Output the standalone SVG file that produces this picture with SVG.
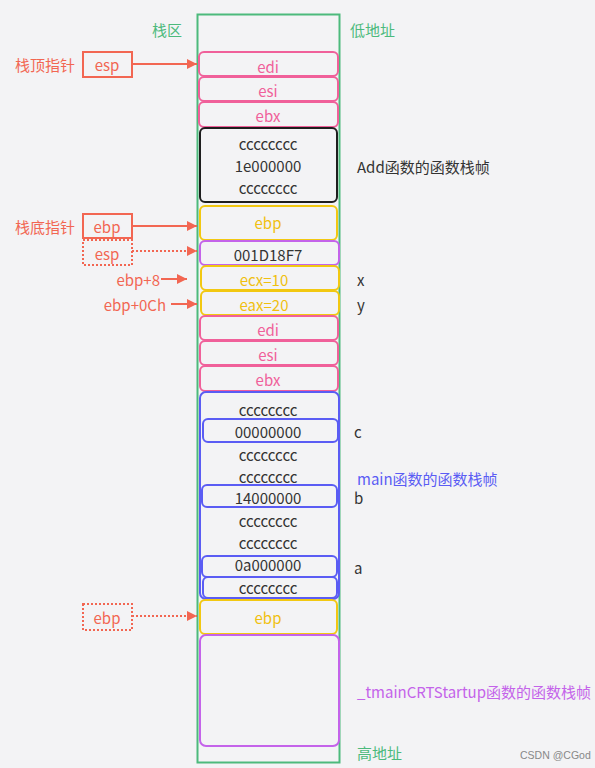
<svg xmlns="http://www.w3.org/2000/svg" width="595" height="768" viewBox="0 0 595 768">
<style>
text{font-family:"Noto Sans CJK SC","Noto Sans",sans-serif;font-size:15px;dominant-baseline:central}
.c{text-anchor:middle}
.r{text-anchor:end}
.box{fill:none;stroke-width:2}
.pink{stroke:#f0609a}
.tp{fill:#f0609a}
.yel{stroke:#f2c811}
.ty{fill:#f0c010}
.pur{stroke:#c463ea}
.tu{fill:#c463ea}
.blu{stroke:#5a5cf4}
.tb{fill:#5a5cf4}
.blk{stroke:#1e1e1e}
.tk{fill:#333}
.grn{fill:#4cba7c}
.red{fill:#f26652}
.rbox{fill:none;stroke:#f26652;stroke-width:2}
.dot{stroke-dasharray:2 2}
.ln{stroke:#f26652;stroke-width:2;fill:none}
</style>
<defs>
<marker id="ah" viewBox="0 0 10 10" refX="10" refY="5" markerWidth="10" markerHeight="10" markerUnits="userSpaceOnUse" orient="auto">
<path d="M0,0 L10,5 L0,10 Z" fill="#f26652"/>
</marker>
</defs>
<rect x="0" y="0" width="595" height="768" fill="#f3f3f5"/>
<g id="stack-area">
<rect x="197.5" y="14.5" width="142" height="748" fill="none" stroke="#4cba7c" stroke-width="2"/>
<text x="152" y="29" class="grn">栈区</text>
<text x="350" y="29" class="grn">低地址</text>
<text x="357" y="752" class="grn">高地址</text>
</g>
<g id="n-edi1"><rect x="199" y="52" width="139" height="24" rx="5" class="box pink"/><text x="268" y="66" class="c tp">edi</text></g>
<g id="n-esi1"><rect x="199" y="77" width="139" height="24" rx="5" class="box pink"/><text x="268" y="90" class="c tp">esi</text></g>
<g id="n-ebx1"><rect x="199" y="102" width="139" height="25" rx="5" class="box pink"/><text x="268" y="115" class="c tp">ebx</text></g>
<g id="n-add-locals"><rect x="200" y="128" width="137" height="74" rx="5" class="box blk"/>
<text x="268" y="143" class="c tk">cccccccc</text><text x="268" y="165" class="c tk">1e000000</text><text x="268" y="187" class="c tk">cccccccc</text></g>
<g id="n-ebp1"><rect x="200" y="206" width="137" height="34" rx="5" class="box yel"/><text x="268" y="222" class="c ty">ebp</text></g>
<g id="n-ret"><rect x="200" y="241" width="139" height="24" rx="5" class="box pur"/><text x="268" y="254" class="c tk">001D18F7</text></g>
<g id="n-ecx"><rect x="201" y="266" width="138" height="24" rx="5" class="box yel"/><text x="264" y="279" class="c ty">ecx=10</text></g>
<g id="n-eax"><rect x="201" y="291" width="138" height="24" rx="5" class="box yel"/><text x="264" y="304" class="c ty">eax=20</text></g>
<g id="n-edi2"><rect x="200" y="316" width="138" height="24" rx="5" class="box pink"/><text x="268" y="329" class="c tp">edi</text></g>
<g id="n-esi2"><rect x="200" y="341" width="138" height="24" rx="5" class="box pink"/><text x="268" y="354" class="c tp">esi</text></g>
<g id="n-ebx2"><rect x="200" y="366" width="138" height="25" rx="5" class="box pink"/><text x="268" y="379" class="c tp">ebx</text></g>
<g id="n-main-locals"><rect x="200" y="392" width="139" height="207" rx="6" class="box blu"/>
<text x="268" y="409" class="c tk">cccccccc</text>
<rect x="203" y="419" width="135" height="23" rx="5" class="box blu"/><text x="268" y="431" class="c tk">00000000</text>
<text x="268" y="454" class="c tk">cccccccc</text>
<text x="268" y="476" class="c tk">cccccccc</text>
<rect x="202" y="485" width="135" height="22" rx="5" class="box blu"/><text x="268" y="497" class="c tk">14000000</text>
<text x="268" y="520" class="c tk">cccccccc</text>
<text x="268" y="542" class="c tk">cccccccc</text>
<rect x="202" y="556" width="135" height="21" rx="5" class="box blu"/><text x="268" y="564" class="c tk">0a000000</text>
<rect x="203" y="577" width="134" height="21" rx="5" class="box blu"/><text x="268" y="587" class="c tk">cccccccc</text></g>
<g id="n-ebp2"><rect x="200" y="600" width="137" height="34" rx="5" class="box yel"/><text x="268" y="617" class="c ty">ebp</text></g>
<g id="n-crt"><rect x="200" y="635" width="139" height="111" rx="6" class="box pur"/></g>
<g id="labels-right">
<text x="357" y="166" class="tk">Add函数的函数栈帧</text>
<text x="357" y="279" class="tk">x</text>
<text x="357" y="304" class="tk">y</text>
<text x="354" y="431" class="tk">c</text>
<text x="357" y="478" class="tb">main函数的函数栈帧</text>
<text x="354" y="497" class="tk">b</text>
<text x="354" y="567" class="tk">a</text>
<text x="357" y="691" class="tu">_tmainCRTStartup函数的函数栈帧</text>
<text x="520" y="755" style="font-size:10.5px;font-family:'Liberation Sans',sans-serif" fill="#888">CSDN @CGod</text>
</g>
<g id="n-esp-top"><text x="15" y="64" class="red">栈顶指针</text><rect x="83" y="52" width="49" height="25" class="rbox"/><text x="107" y="64" class="c red">esp</text></g>
<g id="n-ebp-base"><text x="15" y="226" class="red">栈底指针</text><rect x="83" y="214" width="49" height="24" class="rbox"/><text x="107" y="226" class="c red">ebp</text></g>
<g id="n-esp-old"><rect x="83" y="240" width="49" height="25" class="rbox dot"/><text x="107" y="253" class="c red">esp</text></g>
<g id="n-ebp8"><text x="160" y="279" class="r red">ebp+8</text></g>
<g id="n-ebp0c"><text x="166" y="304" class="r red">ebp+0Ch</text></g>
<g id="n-ebp-old"><rect x="83" y="604" width="49" height="26" class="rbox dot"/><text x="107" y="617" class="c red">ebp</text></g>
<g id="connectors">
<line x1="132" y1="64" x2="197" y2="64" class="ln" marker-end="url(#ah)"/>
<line x1="132" y1="226" x2="197" y2="226" class="ln" marker-end="url(#ah)"/>
<line x1="132" y1="251" x2="197" y2="251" class="ln dot" marker-end="url(#ah)"/>
<line x1="161" y1="279" x2="187" y2="279" class="ln" marker-end="url(#ah)"/>
<line x1="171" y1="304" x2="197" y2="304" class="ln" marker-end="url(#ah)"/>
<line x1="132" y1="616" x2="197" y2="616" class="ln dot" marker-end="url(#ah)"/>
</g>
</svg>
